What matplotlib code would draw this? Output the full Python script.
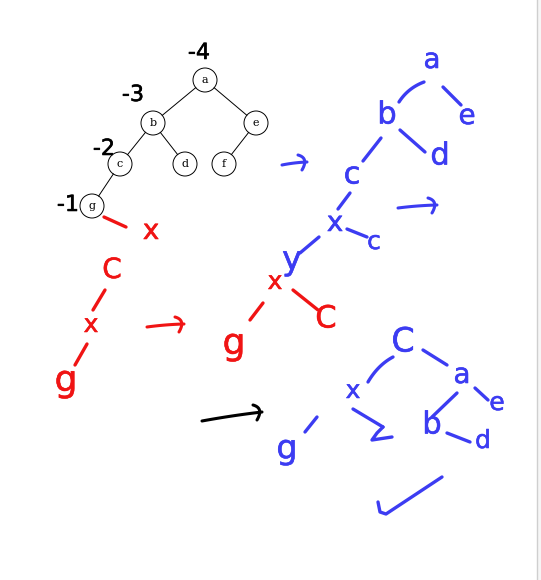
import numpy as np
import matplotlib.pyplot as plt
import matplotlib.patheffects as pe

W, H = 541, 580

# printed tree (top left)
tree_labels = ['a', 'b', 'e', 'c', 'd', 'f', 'g']
tree_x = [205, 153, 256, 120, 185, 224, 92]
tree_y = [80, 123, 123, 164, 164, 164, 206]
tree_edges = [(0, 1), (0, 2), (1, 3), (1, 4), (2, 5), (3, 6)]

# black notes next to the printed tree
note_labels = ['-4', '-3', '-2', '-1']
note_x = [199, 133, 104, 68]
note_y = [53, 95, 149, 205]

# red handwriting
red_labels = ['x', 'C', 'x', 'g', 'x', 'g', 'C']
red_x = [151, 112, 91, 66, 275, 234, 326]
red_y = [231, 270, 325, 381, 282, 344, 319]
red_size = [20, 20, 18, 26, 18, 26, 22]
red_strokes = [
    [(104, 217), (126, 227)],
    [(105, 290), (93, 310)],
    [(87, 344), (75, 365)],
    [(263, 303), (250, 320)],
    [(293, 290), (318, 310)],
]

# blue handwriting
blue_labels = ['a', 'e', 'b', 'd', 'c', 'x', 'c', 'y',
               'C', 'a', 'x', 'b', 'e', 'd', 'g']
blue_x = [432, 467, 387, 440, 352, 335, 374, 292,
          403, 462, 353, 432, 497, 483, 287]
blue_y = [60, 116, 115, 156, 175, 223, 242, 260,
          342, 375, 391, 425, 403, 441, 449]
blue_size = [20, 20, 22, 22, 22, 20, 18, 24,
             24, 20, 18, 22, 18, 18, 24]
blue_strokes = [
    [(424, 82), (408, 88), (399, 102)],
    [(443, 87), (461, 105)],
    [(400, 130), (425, 152)],
    [(381, 138), (363, 161)],
    [(350, 193), (338, 209)],
    [(347, 229), (367, 237)],
    [(319, 237), (300, 253)],
    [(393, 357), (378, 365), (368, 382)],
    [(423, 350), (447, 365)],
    [(353, 409), (383, 427)],
    [(383, 427), (377, 433), (372, 440), (392, 437)],
    [(457, 393), (432, 417)],
    [(475, 388), (488, 400)],
    [(447, 433), (470, 442)],
    [(317, 417), (305, 432)],
    [(378, 502), (380, 512), (386, 514), (442, 477)],
]

# arrows: shaft start, shaft end, colour
RED = '#f01414'
BLUE = '#3c3cf2'
arrows = [
    ((147, 327), (184, 324), RED),
    ((282, 165), (307, 162), BLUE),
    ((398, 208), (437, 205), BLUE),
    ((202, 421), (262, 412), 'black'),
]

fig = plt.figure(figsize=(W / 100, H / 100), dpi=100)
ax = fig.add_axes([0, 0, 1, 1])
ax.set_xlim(0, W)
ax.set_ylim(H, 0)
ax.axis('off')


def smooth(pts, n=30):
    pts = np.array(pts, dtype=float)
    if len(pts) == 3:
        t = np.linspace(0, 1, n)[:, None]
        c = (1 - t) ** 2 * pts[0] + 2 * t * (1 - t) * pts[1] + t ** 2 * pts[2]
        return c[:, 0], c[:, 1]
    return pts[:, 0], pts[:, 1]


def stroke(pts, color, lw=2.4):
    xs, ys = smooth(pts)
    ax.plot(xs, ys, color=color, lw=lw, solid_capstyle='round',
            solid_joinstyle='round')


def write(lab, x, y, size, color):
    t = ax.text(x, y, lab, ha='center', va='center', fontsize=size,
                color=color)
    t.set_path_effects([pe.withStroke(linewidth=0.4, foreground=color)])


# printed tree
for i, j in tree_edges:
    dx = tree_x[j] - tree_x[i]
    dy = tree_y[j] - tree_y[i]
    d = np.hypot(dx, dy)
    r = 12
    ax.plot([tree_x[i] + dx / d * r, tree_x[j] - dx / d * r],
            [tree_y[i] + dy / d * r, tree_y[j] - dy / d * r],
            color='black', lw=0.7)
for lab, x, y in zip(tree_labels, tree_x, tree_y):
    ax.add_patch(plt.Circle((x, y), 12, fill=False, ec='black', lw=0.7))
    ax.text(x, y, lab, ha='center', va='center', fontsize=8,
            family='DejaVu Serif')

for lab, x, y in zip(note_labels, note_x, note_y):
    write(lab, x, y, 16, 'black')

for lab, x, y, s in zip(red_labels, red_x, red_y, red_size):
    write(lab, x, y, s, RED)
for pts in red_strokes:
    stroke(pts, RED)

for lab, x, y, s in zip(blue_labels, blue_x, blue_y, blue_size):
    write(lab, x, y, s, BLUE)
for pts in blue_strokes:
    stroke(pts, BLUE)

for (x0, y0), (x1, y1), col in arrows:
    stroke([(x0, y0), ((x0 + x1) / 2, (y0 + y1) / 2 - 1), (x1, y1)], col, lw=2.2)
    stroke([(x1 - 9, y1 - 7), (x1 + 2, y1 - 4), (x1 - 5, y1 + 8)], col, lw=2.2)

# page edge on the right
ax.axvline(537, color='#cfcfcf', lw=1)
ax.axvspan(537.5, W, color='#f6f6f6', lw=0)

fig.savefig('out.png', dpi=100)
